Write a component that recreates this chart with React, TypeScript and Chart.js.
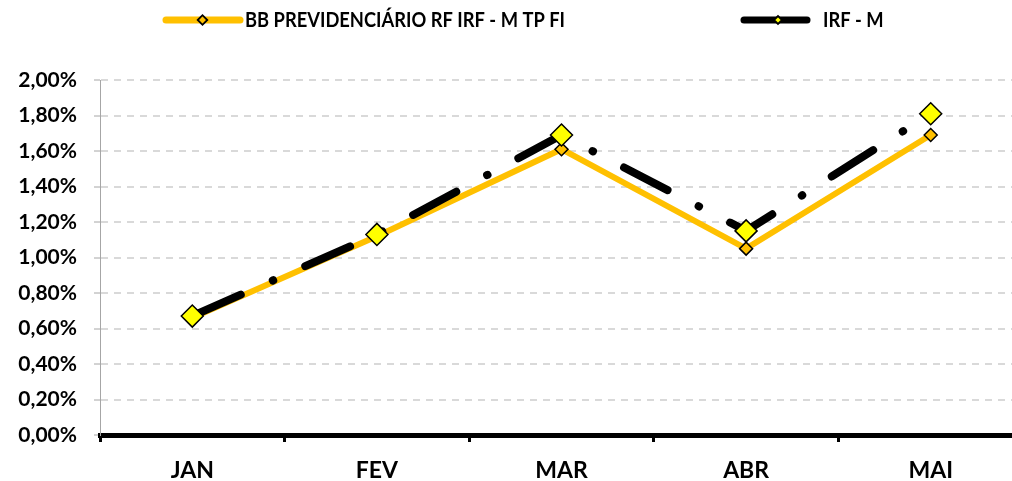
import React, { useEffect, useRef } from "react";
import { Chart, registerables } from "chart.js";

Chart.register(...registerables);

const categories = ["JAN", "FEV", "MAR", "ABR", "MAI"];
const fundValues = [0.66, 1.12, 1.61, 1.05, 1.69];
const indexValues = [0.67, 1.13, 1.69, 1.15, 1.81];
const seriesNames = ["BB PREVIDENCIÁRIO RF IRF - M TP FI", "IRF - M"];
const yMin = 0;
const yMax = 2;
const yStep = 0.2;

const FONT = "Lato, 'Noto Sans', sans-serif";
const ORANGE = "#FFC000";
const YELLOW = "#FFFF00";

const fmt = (v: number) => v.toFixed(2).replace(".", ",") + "%";

function diamond(ctx: CanvasRenderingContext2D, x: number, y: number, r: number, fill: string) {
  ctx.beginPath();
  ctx.moveTo(x - r, y);
  ctx.lineTo(x, y - r);
  ctx.lineTo(x + r, y);
  ctx.lineTo(x, y + r);
  ctx.closePath();
  ctx.fillStyle = fill;
  ctx.fill();
  ctx.lineWidth = 1.8;
  ctx.strokeStyle = "#000";
  ctx.stroke();
}

const legendPlugin = {
  id: "customLegend",
  afterDraw(chart: any) {
    const ctx: CanvasRenderingContext2D = chart.ctx;
    const y = 20;
    const items = [
      { x0: 166, x1: 240, color: ORANGE, mx: 202.5, mr: 4.8, fill: ORANGE, tx: 245, text: seriesNames[0] },
      { x0: 744, x1: 807, color: "#000", mx: 778, mr: 4, fill: YELLOW, tx: 823, text: seriesNames[1] },
    ];
    ctx.save();
    ctx.font = `bold 20px ${FONT}`;
    const sx = 320 / ctx.measureText(seriesNames[0]).width;
    for (const it of items) {
      ctx.beginPath();
      ctx.lineCap = "round";
      ctx.lineWidth = 7;
      ctx.strokeStyle = it.color;
      ctx.moveTo(it.x0, y);
      ctx.lineTo(it.x1, y);
      ctx.stroke();
      diamond(ctx, it.mx, y, it.mr, it.fill);
      ctx.save();
      ctx.translate(it.tx, y + 1);
      ctx.scale(sx, 1);
      ctx.fillStyle = "#000";
      ctx.font = `bold 20px ${FONT}`;
      ctx.textAlign = "left";
      ctx.textBaseline = "middle";
      ctx.fillText(it.text, 0, 0);
      ctx.restore();
    }
    ctx.restore();
  },
};

export default function App() {
  const ref = useRef<HTMLCanvasElement>(null);
  useEffect(() => {
    const chart = new Chart(ref.current!, {
      type: "line",
      data: {
        labels: categories,
        datasets: [
          {
            label: seriesNames[0],
            data: fundValues,
            order: 1,
            borderColor: ORANGE,
            borderWidth: 6,
            tension: 0,
            pointStyle: "rectRot",
            pointRadius: 6.5,
            pointBackgroundColor: ORANGE,
            pointBorderColor: "#000",
            pointBorderWidth: 1.5,
            borderCapStyle: "round",
            borderJoinStyle: "miter",
          },
          {
            label: seriesNames[1],
            data: indexValues,
            order: 0,
            borderColor: "#000",
            borderWidth: 8,
            tension: 0,
            borderDash: [49, 35, 0.5, 35],
            borderDashOffset: 115.5,
            borderCapStyle: "round",
            pointStyle: "rectRot",
            pointRadius: 11,
            pointBackgroundColor: YELLOW,
            pointBorderColor: "#000",
            pointBorderWidth: 1.5,
          },
        ],
      },
      options: {
        responsive: false,
        maintainAspectRatio: false,
        animation: false,
        devicePixelRatio: 1,
        events: [],
        layout: { autoPadding: false, padding: { top: 80, right: 0, bottom: 0, left: 0 } },
        plugins: {
          legend: { display: false },
          tooltip: { enabled: false },
        },
        scales: {
          x: {
            type: "category",
            offset: true,
            grid: {
              display: true,
              drawOnChartArea: false,
              drawTicks: true,
              tickLength: 7,
              tickColor: "#000",
              tickWidth: 3,
              offset: true,
            },
            border: { display: true, color: "#000", width: 5 },
            ticks: {
              color: "#000",
              font: { family: FONT, size: 23, weight: "bold" },
              padding: 15,
              maxRotation: 0,
            },
            afterFit: (s: any) => {
              s.height = 46;
            },
          },
          y: {
            min: yMin,
            max: yMax,
            ticks: {
              stepSize: yStep,
              color: "#000",
              font: { family: FONT, size: 21, weight: "bold" },
              padding: 17,
              callback: (v: any) => fmt(Number(v)),
            },
            grid: {
              color: (c: any) => (c.tick && Math.abs(c.tick.value) < 1e-9 ? "rgba(0,0,0,0)" : "#D9D9D9"),
              lineWidth: 2,
              tickColor: "#A6A6A6",
              tickLength: 6,
              tickWidth: 1,
            },
            border: { display: true, color: "#A6A6A6", width: 1, dash: [7, 6] },
            afterFit: (s: any) => {
              s.width = 100;
            },
          },
        },
      } as any,
      plugins: [legendPlugin],
    });
    return () => chart.destroy();
  }, []);
  return (
    <div
      style={{
        position: "fixed",
        left: 0,
        top: 0,
        width: 1012,
        height: 481,
        overflow: "hidden",
        background: "#fff",
      }}
    >
      <div style={{ width: 1023, height: 481 }}>
        <canvas ref={ref} width={1023} height={481} style={{ display: "block", width: 1023, height: 481 }} />
      </div>
    </div>
  );
}
